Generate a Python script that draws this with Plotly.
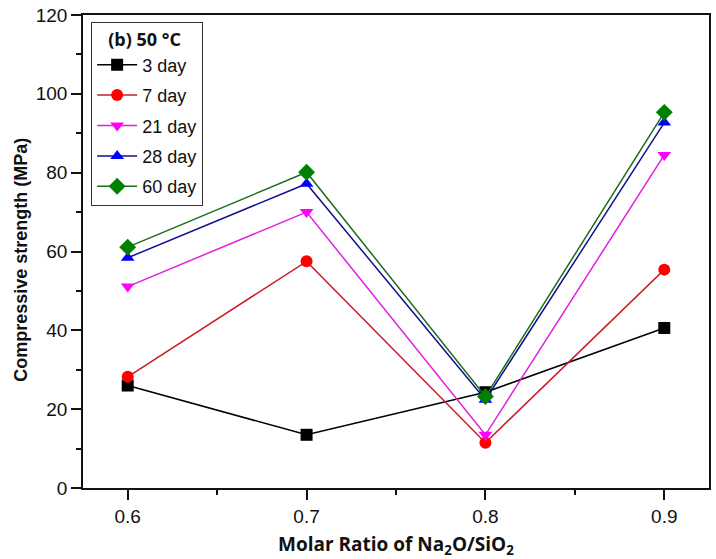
import plotly.graph_objects as go

ratios = [0.6, 0.7, 0.8, 0.9]
series_names = ["3 day", "7 day", "21 day", "28 day", "60 day"]
day3 = [26.0, 13.5, 24.3, 40.6]
day7 = [28.2, 57.5, 11.5, 55.4]
day21 = [51.1, 70.0, 13.5, 84.5]
day28 = [58.4, 77.2, 22.4, 92.7]
day60 = [61.1, 80.1, 23.2, 95.3]
values = [day3, day7, day21, day28, day60]
marker_colors = ["#000000", "#ff0000", "#ff00ff", "#0000ff", "#008000"]
line_colors = ["#000000", "#c8202a", "#e020e0", "#101090", "#1a6e1a"]
symbols = ["square", "circle", "triangle-down", "triangle-up", "diamond"]

fig = go.Figure()
for i, (name, vals, mc, lc, sym) in enumerate(zip(series_names, values, marker_colors, line_colors, symbols)):
    fig.add_trace(go.Scatter(
        x=ratios, y=vals, name=name, mode="lines+markers", legendgroup=f"g{i}",
        line=dict(color=lc, width=1.5),
        marker=dict(symbol=sym, color=mc, size=12 if sym != "diamond" else 13),
    ))

axis_font = dict(family="Liberation Sans, Arial, sans-serif", size=19, color="#111")
fig.update_layout(
    width=716, height=559,
    margin=dict(l=83, r=5, t=14, b=71),
    paper_bgcolor="white", plot_bgcolor="white",
    showlegend=True,
    legend=dict(
        x=0.013, y=0.985, xanchor="left", yanchor="top",
        bordercolor="#333", borderwidth=1, bgcolor="white",
        font=dict(family="Liberation Sans, Arial, sans-serif", size=18, color="#111"),
        title=dict(text="&nbsp;&nbsp;&nbsp;<b>(b) 50 °C</b>", font=dict(family="Open Sans, sans-serif", size=18, color="#111")),
        tracegroupgap=4, itemwidth=40,
    ),
    xaxis=dict(
        range=[0.575, 0.925], tickvals=[0.6, 0.7, 0.8, 0.9], ticktext=["0.6", "0.7", "0.8", "0.9"],
        ticks="outside", ticklen=10, tickwidth=1.5, tickcolor="#111",
        minor=dict(tickvals=[0.65, 0.75, 0.85], ticks="outside", ticklen=5, tickwidth=1.5, tickcolor="#111"),
        showline=True, linecolor="#111", linewidth=1.5, mirror=True,
        showgrid=False, zeroline=False, tickfont=axis_font,
    ),
    yaxis=dict(
        range=[0, 120], tickvals=[0, 20, 40, 60, 80, 100, 120],
        ticks="outside", ticklen=10, tickwidth=1.5, tickcolor="#111",
        minor=dict(tickvals=[10, 30, 50, 70, 90, 110], ticks="outside", ticklen=5, tickwidth=1.5, tickcolor="#111"),
        showline=True, linecolor="#111", linewidth=1.5, mirror=True,
        showgrid=False, zeroline=False, tickfont=axis_font,
    ),
    annotations=[
        dict(
            text="<b>Compressive strength (MPa)</b>", textangle=-90,
            xref="paper", yref="paper", x=-0.1003, y=0.483, xanchor="center", yanchor="middle",
            showarrow=False, font=dict(family="Liberation Sans, Arial, sans-serif", size=18, color="#111"),
        ),
        dict(
            text="<b>Molar Ratio of Na<sub>2</sub>O/SiO<sub>2</sub></b>",
            xref="paper", yref="paper", x=0.5, y=-0.12, xanchor="center", yanchor="middle",
            showarrow=False, font=dict(family="Open Sans, sans-serif", size=19, color="#111"),
        ),
    ],
)

fig.write_html("out.html")
